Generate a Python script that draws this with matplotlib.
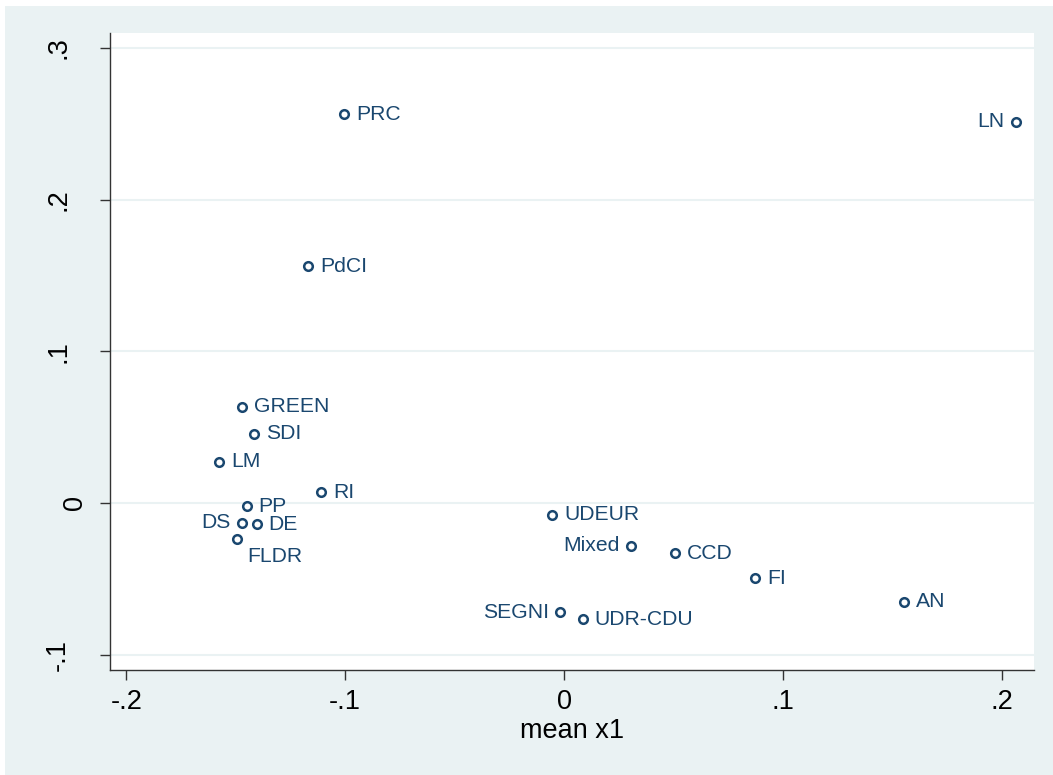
import matplotlib
matplotlib.use("Agg")
import matplotlib.pyplot as plt
from matplotlib.patches import Rectangle
from matplotlib.ticker import FixedLocator, FuncFormatter
import matplotlib.transforms as mtransforms

parties = ["PRC", "LN", "PdCI", "GREEN", "SDI", "LM", "RI", "PP", "DS", "DE",
           "FLDR", "UDEUR", "Mixed", "CCD", "FI", "SEGNI", "UDR-CDU", "AN"]
x_vals = [-0.1006, 0.2062, -0.1170, -0.1471, -0.1417, -0.1577, -0.1111, -0.1450, -0.1473, -0.1405,
          -0.1495, -0.0056, 0.0305, 0.0505, 0.0871, -0.0020, 0.0084, 0.1551]
y_vals = [0.2564, 0.2512, 0.1562, 0.0635, 0.0455, 0.0272, 0.0070, -0.0020, -0.0130, -0.0140,
          -0.0235, -0.0077, -0.0281, -0.0332, -0.0496, -0.0720, -0.0765, -0.0650]
label_pos = ["r", "l", "r", "r", "r", "r", "r", "r", "l", "r",
             "br", "r", "l", "r", "r", "l", "r", "r"]
x_ticks = [-0.2, -0.1, 0, 0.1, 0.2]
y_ticks = [-0.1, 0, 0.1, 0.2, 0.3]
x_title = "mean x1"

W, H = 1053, 775
BG = "#eaf2f3"
NAVY = "#1a476f"
plt.rcParams["font.family"] = ["Liberation Sans", "DejaVu Sans"]

fig = plt.figure(figsize=(W / 100, H / 100), dpi=100, facecolor=BG)
fig.patches.append(Rectangle((0, 1 - 6 / H), 1, 6 / H, transform=fig.transFigure,
                             facecolor="white", edgecolor="none", zorder=-10))
fig.patches.append(Rectangle((0, 0), 5 / W, 1, transform=fig.transFigure,
                             facecolor="white", edgecolor="none", zorder=-10))

ax = fig.add_axes([110 / W, (H - 670) / H, 924 / W, 637 / H])
ax.set_zorder(1)
ax.set_facecolor("white")
ax.set_xlim(-0.2074, 0.2145)
ax.set_ylim(-0.1101, 0.3098)

for s in ["top", "right"]:
    ax.spines[s].set_visible(False)
for s in ["left", "bottom"]:
    ax.spines[s].set_color("#333333")
    ax.spines[s].set_linewidth(1.0)

ax.yaxis.set_major_locator(FixedLocator(y_ticks))
ax.xaxis.set_major_locator(FixedLocator(x_ticks))

def stata_fmt(v, pos=None):
    if abs(v) < 1e-9:
        return "0"
    s = f"{v:g}"
    return s.replace("0.", ".")

ax.xaxis.set_major_formatter(FuncFormatter(stata_fmt))
ax.tick_params(axis="both", direction="out", length=7.5, width=1.0, color="#333333",
               labelsize=19.5, labelcolor="black", pad=6)
ax.tick_params(axis="y", labelleft=False)

# y tick labels, rotated as in the reference (Stata-style)
ytrans = mtransforms.blended_transform_factory(fig.transFigure, ax.transData)
for v in y_ticks:
    lab = stata_fmt(v)
    xpx = 82 if lab == "0" else 65
    ax.text(xpx / W, v, lab, transform=ytrans, rotation=90, rotation_mode="anchor",
            ha="center", va="baseline", fontsize=19.5, color="black", clip_on=False)

ax.grid(axis="y", color=BG, linewidth=1.5)
ax.set_axisbelow(True)

ax.set_xlabel(x_title, fontsize=19.5, labelpad=2)

ax.plot(x_vals, y_vals, linestyle="none", marker="o", markersize=6.2,
        markerfacecolor="white", markeredgecolor=NAVY, markeredgewidth=1.8, zorder=3)

k = 72 / 100
for name, xv, yv, pos in zip(parties, x_vals, y_vals, label_pos):
    if pos == "r":
        off, ha, va = (12 * k, 0), "left", "center"
    elif pos == "l":
        off, ha, va = (-11 * k, 0), "right", "center"
    else:
        off, ha, va = (10 * k, -18 * k), "left", "center"
    ax.annotate(name, (xv, yv), xytext=off, textcoords="offset points",
                ha=ha, va=va, fontsize=15.2, color=NAVY, zorder=4)

fig.savefig("out.png", dpi=100, facecolor=fig.get_facecolor())
